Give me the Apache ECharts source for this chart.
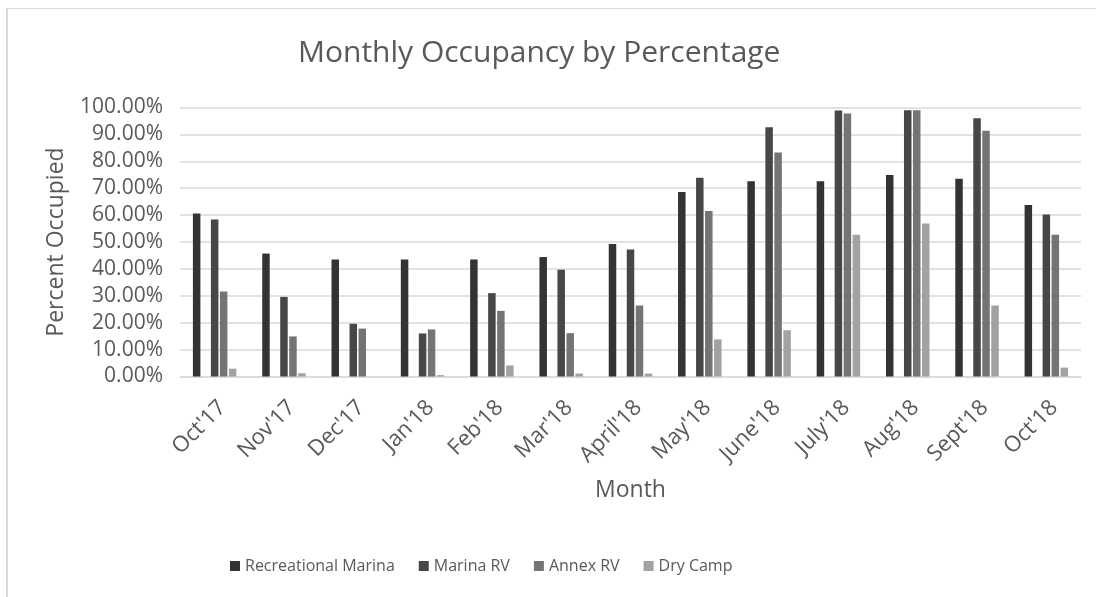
<!DOCTYPE html>
<html lang="en">
<head>
    <meta charset="utf-8">
    <title>Monthly Occupancy by Percentage</title>
    <script src="https://cdn.jsdelivr.net/npm/echarts@6/dist/echarts.min.js"></script>
    <style type="text/css">
        html, body { height: 100%; margin: 0; background: #fff; }
        #frame {
            position: absolute; left: 6px; top: 8px; right: -4px; bottom: -4px;
            border-left: 2px solid #d9d9d9; border-top: 1px solid #d9d9d9;
        }
    </style>
</head>
<body>
    <div id="frame"></div>
    <div id="main" style="position:absolute;left:0;top:0;width:1096px;height:597px;"></div>
    <script type="text/javascript">
        // 数据
        var months = ["Oct'17", "Nov'17", "Dec'17", "Jan'18", "Feb'18", "Mar'18", "April'18",
            "May'18", "June'18", "July'18", "Aug'18", "Sept'18", "Oct'18"];
        var recreationalMarina = [60.6, 45.7, 43.5, 43.5, 43.5, 44.4, 49.3, 68.6, 72.6, 72.6, 74.9, 73.5, 63.8];
        var blankSeries = [];
        var marinaRV = [58.4, 29.6, 19.6, 16.0, 31.0, 39.7, 47.2, 73.9, 92.7, 98.9, 99.0, 96.0, 60.2];
        var annexRV = [31.6, 14.9, 17.8, 17.5, 24.4, 16.1, 26.4, 61.5, 83.3, 97.8, 99.0, 91.4, 52.7];
        var dryCamp = [2.9, 1.2, 0, 0.5, 4.1, 1.1, 1.1, 13.8, 17.2, 52.7, 56.9, 26.4, 3.3];
        var yTicks = [0, 10, 20, 30, 40, 50, 60, 70, 80, 90, 100];

        var font = 'Open Sans';
        var textColor = '#595959';

        myChart = echarts.init(document.getElementById('main'), null, { renderer: 'canvas' });

        function bar(name, data, color) {
            return {
                name: name,
                type: 'bar',
                data: data,
                barWidth: 7.5,
                barGap: '20%',
                itemStyle: { color: color },
                emphasis: { disabled: true }
            };
        }

        option = {
            animation: false,
            textStyle: { fontFamily: font, color: textColor },
            title: {
                text: 'Monthly Occupancy by Percentage',
                left: 293,
                top: 33,
                textStyle: { fontFamily: font, fontSize: 30, fontWeight: 'normal', color: textColor }
            },
            legend: {
                data: ['Recreational Marina', 'Marina RV', 'Annex RV', 'Dry Camp'],
                left: 225,
                top: 553,
                icon: 'rect',
                itemWidth: 10,
                itemHeight: 10,
                itemGap: 24,
                textStyle: { fontFamily: font, fontSize: 16, color: textColor }
            },
            grid: {
                left: 180,
                right: 15,
                top: 107.5,
                bottom: 220.5,
                containLabel: false
            },
            xAxis: {
                type: 'category',
                data: months,
                name: 'Month',
                nameLocation: 'middle',
                nameGap: 102,
                nameTextStyle: { fontFamily: font, fontSize: 23, color: textColor },
                axisLine: { lineStyle: { color: '#d9d9d9', width: 1.5 } },
                axisTick: { show: false },
                axisLabel: {
                    rotate: 45,
                    margin: 20,
                    interval: 0,
                    verticalAlign: 'top',
                    fontFamily: font,
                    fontSize: 22,
                    color: textColor
                }
            },
            yAxis: {
                type: 'value',
                min: yTicks[0],
                max: yTicks[yTicks.length - 1],
                interval: 10,
                name: 'Percent Occupied',
                nameLocation: 'middle',
                nameGap: 112,
                nameTextStyle: { fontFamily: font, fontSize: 23, color: textColor },
                axisLine: { show: false },
                axisTick: { show: false },
                splitLine: { lineStyle: { color: '#d9d9d9', width: 1.5 } },
                axisLabel: {
                    margin: 17,
                    fontFamily: font,
                    fontSize: 21,
                    color: textColor,
                    formatter: function (v) { return v.toFixed(2) + '%'; }
                }
            },
            series: [
                bar('Recreational Marina', recreationalMarina, '#333333'),
                bar('', blankSeries, '#3c3c3c'),
                bar('Marina RV', marinaRV, '#474747'),
                bar('Annex RV', annexRV, '#747474'),
                bar('Dry Camp', dryCamp, '#a2a2a2')
            ]
        };

        option && myChart.setOption(option);
    </script>
</body>
</html>
